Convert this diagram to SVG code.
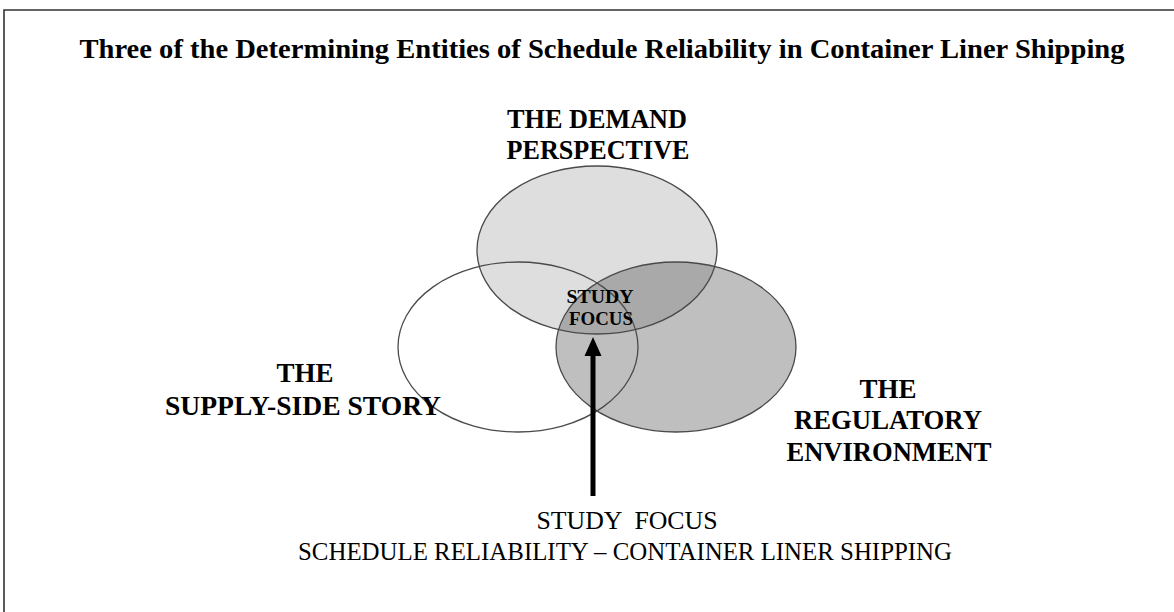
<svg xmlns="http://www.w3.org/2000/svg" width="1174" height="612" viewBox="0 0 1174 612">
  <style>
    .label { font-family: "Liberation Serif", "Times New Roman", serif; font-weight: bold; font-size: 27px; fill: #000; text-anchor: middle; }
    .small { font-family: "Liberation Serif", "Times New Roman", serif; font-weight: bold; font-size: 18px; fill: #000; text-anchor: middle; }
    .caption { font-family: "Liberation Serif", "Times New Roman", serif; font-size: 25px; fill: #000; text-anchor: middle; white-space: pre; }
    .title { font-family: "Liberation Serif", "Times New Roman", serif; font-weight: bold; font-size: 28px; fill: #000; text-anchor: middle; }
    .outline { fill: none; stroke: #4a4a4a; stroke-width: 1.3; }
  </style>
  <defs>
    <ellipse id="shape-demand" cx="597" cy="250" rx="120" ry="84"/>
    <ellipse id="shape-supply" cx="518" cy="347" rx="120" ry="85"/>
    <ellipse id="shape-regulatory" cx="676" cy="347" rx="120" ry="85"/>
    <clipPath id="clip-regulatory">
      <use href="#shape-regulatory"/>
    </clipPath>
  </defs>

  <rect width="1174" height="612" fill="#ffffff"/>

  <!-- frame: top and left rules -->
  <path d="M4,612 V10 H1174" fill="none" stroke="#333333" stroke-width="1.6"/>

  <text class="title" x="602" y="58" textLength="1045" lengthAdjust="spacingAndGlyphs">Three of the Determining Entities of Schedule Reliability in Container Liner Shipping</text>

  <!-- filled areas -->
  <g id="fills">
    <use href="#shape-demand" fill="#dedede"/>
    <use href="#shape-regulatory" fill="#bfbfbf"/>
    <use href="#shape-demand" fill="#a9a9a9" clip-path="url(#clip-regulatory)"/>
  </g>

  <g id="node-demand">
    <use href="#shape-demand" class="outline"/>
    <text class="label" x="597" y="128" textLength="180" lengthAdjust="spacingAndGlyphs">THE DEMAND</text>
    <text class="label" x="598" y="159" textLength="183" lengthAdjust="spacingAndGlyphs">PERSPECTIVE</text>
  </g>

  <g id="node-supply">
    <use href="#shape-supply" class="outline"/>
    <text class="label" x="305" y="382" textLength="57" lengthAdjust="spacingAndGlyphs">THE</text>
    <text class="label" x="303" y="415" textLength="276" lengthAdjust="spacingAndGlyphs">SUPPLY-SIDE STORY</text>
  </g>

  <g id="node-regulatory">
    <use href="#shape-regulatory" class="outline"/>
    <text class="label" x="888" y="398" textLength="57" lengthAdjust="spacingAndGlyphs">THE</text>
    <text class="label" x="888" y="429" textLength="188" lengthAdjust="spacingAndGlyphs">REGULATORY</text>
    <text class="label" x="889" y="461" textLength="205" lengthAdjust="spacingAndGlyphs">ENVIRONMENT</text>
  </g>

  <g id="node-focus">
    <text class="small" x="600" y="303" textLength="67" lengthAdjust="spacingAndGlyphs">STUDY</text>
    <text class="small" x="601" y="325" textLength="64" lengthAdjust="spacingAndGlyphs">FOCUS</text>
  </g>

  <g id="connectors">
    <line x1="593" y1="496" x2="593" y2="352" stroke="#000" stroke-width="5"/>
    <polygon points="593,337 584.5,356 601.5,356" fill="#000"/>
  </g>

  <g id="node-caption">
    <text class="caption" x="627" y="529" xml:space="preserve" textLength="181" lengthAdjust="spacingAndGlyphs">STUDY  FOCUS</text>
    <text class="caption" x="625" y="560" textLength="654" lengthAdjust="spacingAndGlyphs">SCHEDULE RELIABILITY – CONTAINER LINER SHIPPING</text>
  </g>
</svg>
